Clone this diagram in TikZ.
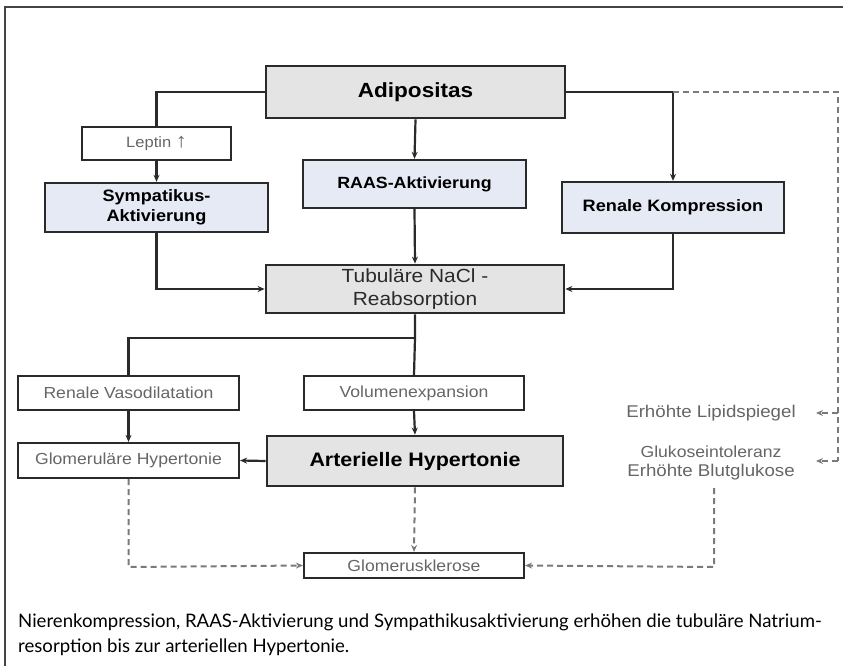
\documentclass[tikz,border=0pt]{standalone}
\usepackage{fontspec}
\usetikzlibrary{arrows.meta,positioning}
\newfontfamily\diag{Liberation Sans}[FakeStretch=1.1]
\newfontfamily\capfont{Lato}
\definecolor{boxgrey}{HTML}{E4E4E4}
\definecolor{boxblue}{HTML}{E6EAF5}
\definecolor{lineclr}{HTML}{2A2A2A}
\definecolor{txtgrey}{HTML}{666666}
\definecolor{dashclr}{HTML}{7A7A7A}
\definecolor{frameclr}{HTML}{444444}
\tikzset{
  box/.style={draw=lineclr, inner sep=0pt, align=center},
  greybox/.style={box, fill=boxgrey, line width=2.8pt},
  bluebox/.style={box, fill=boxblue, line width=2.4pt},
  whitebox/.style={box, fill=white, line width=2.2pt, text=txtgrey},
  conn/.style={draw=lineclr, line width=2.2pt},
  arr/.style={conn, -{Stealth[length=7pt,width=6pt]}},
  dconn/.style={draw=dashclr, line width=2pt, dash pattern=on 6pt off 4pt},
  darr/.style={dconn, -{Stealth[length=7pt,width=6pt]}},
  plain/.style={inner sep=0pt, align=center, text=txtgrey},
  capstyle/.style={anchor=base west, inner sep=0pt, font=\capfont\fontsize{18.6}{26}\selectfont, text=black},
}
\begin{document}
\begin{tikzpicture}[x=1pt,y=-1pt]
\useasboundingbox (0,0) rectangle (843,666);
\fill[white] (0,0) rectangle (843,666);
% frame (top and left visible)
\draw[frameclr, line width=2pt] (5,666) -- (5,7) -- (843,7);

% boxes
\node[greybox, minimum width=299pt, minimum height=52pt, font=\diag\fontsize{20.5}{24}\selectfont\bfseries] (adip) at (415.5,92) {Adipositas};
\node[whitebox, minimum width=149pt, minimum height=33pt, font=\diag\fontsize{15}{18}\selectfont] (lep) at (156.5,143.5) {Leptin {\fontsize{20}{18}\selectfont\bfseries ↑}};
\node[bluebox, minimum width=223pt, minimum height=49pt, font=\diag\fontsize{16.5}{20}\selectfont\bfseries] (symp) at (156.5,207.5) {Sympatikus-\\Aktivierung};
\node[bluebox, minimum width=223pt, minimum height=48pt, font=\diag\fontsize{16.2}{19}\selectfont\bfseries] (raas) at (414.5,184) {RAAS-Aktivierung};
\node[bluebox, minimum width=222pt, minimum height=51pt, font=\diag\fontsize{16.5}{20}\selectfont\bfseries] (ren) at (673,207.5) {Renale Kompression};
\node[greybox, minimum width=298pt, minimum height=48pt, text=lineclr, font=\diag\fontsize{19}{22.5}\selectfont] (tub) at (415,289) {Tubuläre NaCl -\\Reabsorption};
\node[whitebox, minimum width=221pt, minimum height=34pt, font=\diag\fontsize{16}{19}\selectfont] (vaso) at (128.5,393) {Renale Vasodilatation};
\node[whitebox, minimum width=220pt, minimum height=34pt, font=\diag\fontsize{16}{19}\selectfont] (volu) at (414,393) {Volumenexpansion};
\node[whitebox, minimum width=221pt, minimum height=35pt, font=\diag\fontsize{16}{19}\selectfont] (glomh) at (128.5,460.5) {Glomeruläre Hypertonie};
\node[greybox, minimum width=296pt, minimum height=50pt, font=\diag\fontsize{19.5}{23}\selectfont\bfseries] (arth) at (415,461) {Arterielle Hypertonie};
\node[whitebox, minimum width=220pt, minimum height=25pt, font=\diag\fontsize{16}{19}\selectfont] (skl) at (414,565.5) {Glomerusklerose};

% right-hand texts
\node[plain, font=\diag\fontsize{17}{20}\selectfont] (lip) at (711,413) {Erhöhte Lipidspiegel};
\node[plain, font=\diag\fontsize{16}{18}\selectfont] (glu1) at (711,452) {Glukoseintoleranz};
\node[plain, font=\diag\fontsize{17}{20}\selectfont] (glu2) at (711,472) {Erhöhte Blutglukose};

% helper coordinates
\coordinate (aL) at (156.5,92);
\coordinate (aR) at (673,92);
\coordinate (sB) at (156.5,289);
\coordinate (rB) at (673,289);
\coordinate (tJ) at (415,338);
\coordinate (vJ) at (128.5,338);
\coordinate (dTR) at (838,92);
\coordinate (dLip) at (838,413);
\coordinate (dGlu) at (838,461);
\coordinate (lipT) at (816,413);
\coordinate (gluT) at (816,461);
\coordinate (gTop) at (714,488);
\coordinate (gBot) at (714,567);
\coordinate (hBot) at (128.5,567);

% solid connectors
\draw[conn] (adip.west) -- (aL) -- (lep.north);
\draw[arr] (lep.south) -- (symp.north);
\draw[arr] (adip.south) -- (raas.north);
\draw[arr] (adip.east) -- (aR) -- (ren.north);
\draw[arr] (raas.south) -- (tub.north);
\draw[arr] (symp.south) -- (sB) -- (tub.west);
\draw[arr] (ren.south) -- (rB) -- (tub.east);
\draw[conn] (tub.south) -- (tJ) -- (volu.north);
\draw[conn] (tJ) -- (vJ) -- (vaso.north);
\draw[arr] (vaso.south) -- (glomh.north);
\draw[arr] (volu.south) -- (arth.north);
\draw[arr] (arth.west) -- (glomh.east);

% dashed connectors
\draw[dconn] (aR) -- (dTR) -- (dGlu);
\draw[darr] (dLip) -- (lipT);
\draw[darr] (dGlu) -- (gluT);
\draw[darr] (glomh.south) -- (hBot) -- (skl.west);
\draw[darr] (arth.south) -- (skl.north);
\draw[darr] (gTop) -- (gBot) -- (skl.east);

% caption
\node[capstyle] (cap1) at (18,627) {Nierenkompression, RAAS-Aktivierung und Sympathikusaktivierung erhöhen die tubuläre Natrium-};
\node[capstyle] (cap2) at (18,652) {resorption bis zur arteriellen Hypertonie.};
\end{tikzpicture}
\end{document}
